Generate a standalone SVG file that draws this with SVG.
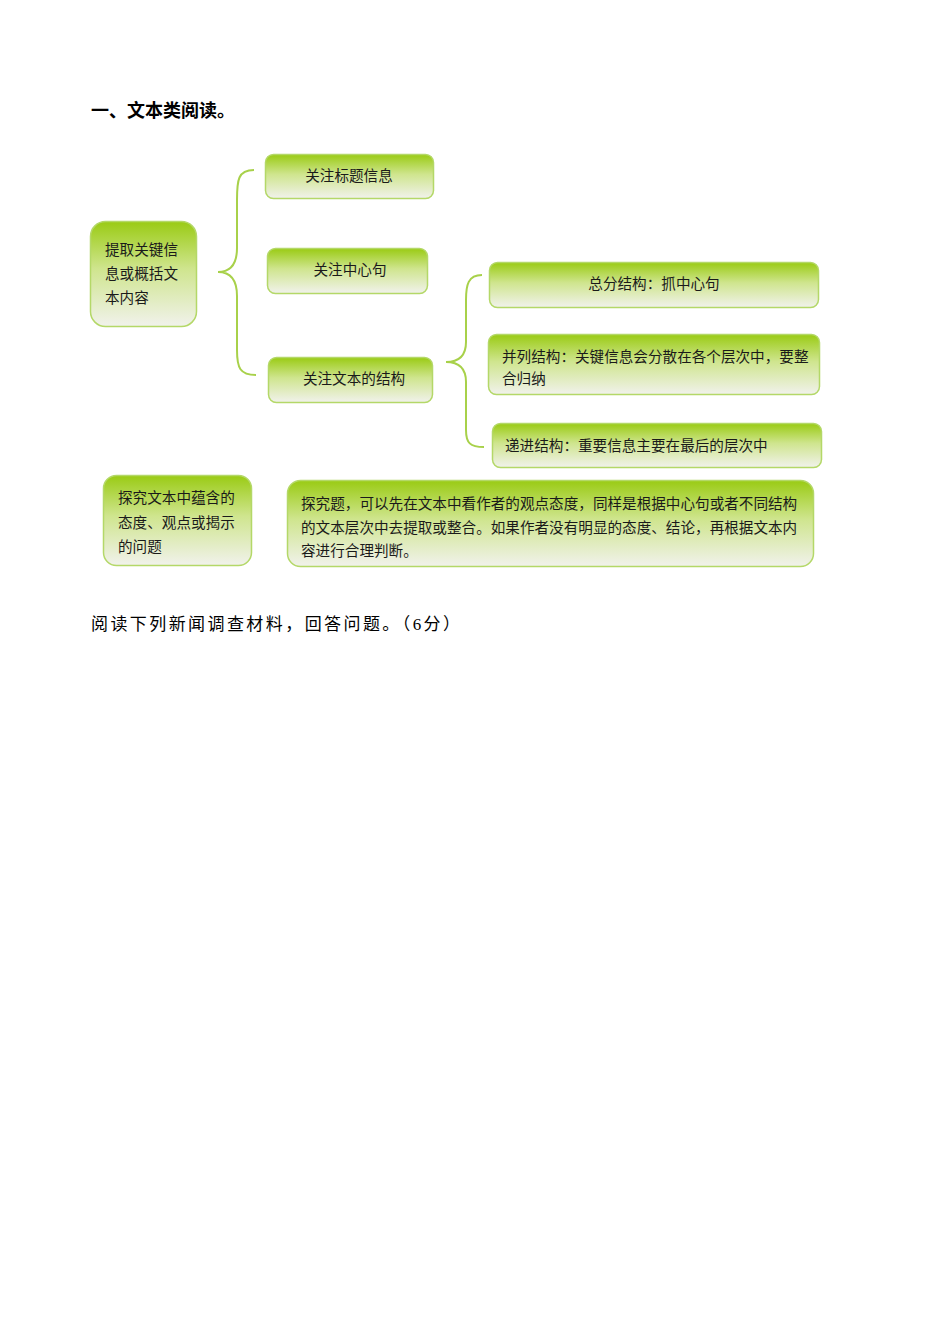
<svg xmlns="http://www.w3.org/2000/svg" width="950" height="1344" viewBox="0 0 950 1344">
<defs>
<linearGradient id="g" x1="0" y1="0" x2="0" y2="1">
<stop offset="0" stop-color="#9acb14"/>
<stop offset="0.45" stop-color="#cfe58e"/>
<stop offset="1" stop-color="#f1f2ec"/>
</linearGradient>
<style>
.box{fill:url(#g);stroke:#b4d868;stroke-width:1.5}
.t{font-family:"Noto Sans CJK SC","Noto Sans",sans-serif;font-size:14.6px;fill:#1a1a1a}
.br{fill:none;stroke:#a8d14a;stroke-width:2}
</style>
</defs>
<rect width="950" height="1344" fill="#ffffff"/>
<text x="91" y="117" style="font-family:'Noto Sans CJK SC',sans-serif;font-size:18px;font-weight:bold;fill:#000">一、文本类阅读。</text>
<g id="connectors">
<path class="br" d="M254,170 C238,170 237,180 237,200 L237,248 C237,265 230,272 218,272 C230,272 237,279 237,296 L237,350 C237,368 240,375 256,375"/>
<path class="br" d="M482,275 C468,275 466,285 466,300 L466,342 C466,355 460,362 446,362 C460,362 466,369 466,382 L466,430 C466,443 470,447 484,447"/>
</g>
<g id="n1"><rect class="box" x="90.5" y="221.5" width="106" height="105" rx="15"/>
<text class="t" x="105" y="255">提取关键信</text><text class="t" x="105" y="279">息或概括文</text><text class="t" x="105" y="303">本内容</text></g>
<g id="n2"><rect class="box" x="265.5" y="154.5" width="168" height="44" rx="8"/>
<text class="t" x="349" y="181" text-anchor="middle">关注标题信息</text></g>
<g id="n3"><rect class="box" x="267.5" y="248.5" width="160" height="45" rx="8"/>
<text class="t" x="350" y="275" text-anchor="middle">关注中心句</text></g>
<g id="n4"><rect class="box" x="268.5" y="357.5" width="164" height="45" rx="8"/>
<text class="t" x="354" y="384" text-anchor="middle">关注文本的结构</text></g>
<g id="n5"><rect class="box" x="489.5" y="262.5" width="329" height="45" rx="8"/>
<text class="t" x="654" y="289" text-anchor="middle">总分结构：抓中心句</text></g>
<g id="n6"><rect class="box" x="488.5" y="334.5" width="331" height="60" rx="8"/>
<text class="t" x="502" y="362">并列结构：关键信息会分散在各个层次中，要整</text>
<text class="t" x="502" y="384">合归纳</text></g>
<g id="n7"><rect class="box" x="492.5" y="423.5" width="329" height="44" rx="8"/>
<text class="t" x="505" y="451">递进结构：重要信息主要在最后的层次中</text></g>
<g id="n8"><rect class="box" x="103.5" y="475.5" width="148" height="90" rx="13"/>
<text class="t" x="118" y="503">探究文本中蕴含的</text><text class="t" x="118" y="528">态度、观点或揭示</text><text class="t" x="118" y="552">的问题</text></g>
<g id="n9"><rect class="box" x="287.5" y="480.5" width="526" height="86" rx="13"/>
<text class="t" x="301" y="509">探究题，可以先在文本中看作者的观点态度，同样是根据中心句或者不同结构</text>
<text class="t" x="301" y="533">的文本层次中去提取或整合。如果作者没有明显的态度、结论，再根据文本内</text>
<text class="t" x="301" y="556">容进行合理判断。</text></g>
<text x="91" y="630" textLength="369" style="font-family:'Liberation Serif','Noto Sans CJK SC',serif;font-size:17px;fill:#000">阅读下列新闻调查材料，回答问题。（6分）</text>
</svg>
